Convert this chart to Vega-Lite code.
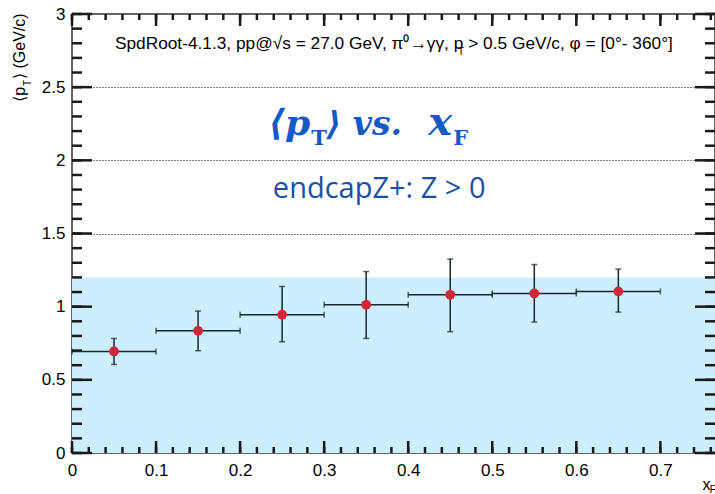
{
  "$schema": "https://vega.github.io/schema/vega-lite/v6.json",
  "width": 643,
  "height": 439,
  "autosize": {"type": "none"},
  "padding": {"left": 72, "top": 14, "right": 0, "bottom": 41},
  "background": "white",
  "config": {
    "view": {"stroke": "#333333", "strokeWidth": 1.5},
    "axis": {"domain": false, "ticks": false, "labelFont": "Liberation Sans", "labelColor": "#000000", "labelFontSize": 17, "title": null, "zindex": 1, "grid": false}
  },
  "datasets": {
    "pts": [
      {"x": 0.05, "xlo": 0.0, "xhi": 0.1, "y": 0.694, "ylo": 0.605, "yhi": 0.783},
      {"x": 0.15, "xlo": 0.1, "xhi": 0.2, "y": 0.835, "ylo": 0.699, "yhi": 0.970},
      {"x": 0.25, "xlo": 0.2, "xhi": 0.3, "y": 0.945, "ylo": 0.760, "yhi": 1.138},
      {"x": 0.35, "xlo": 0.3, "xhi": 0.4, "y": 1.013, "ylo": 0.783, "yhi": 1.240},
      {"x": 0.45, "xlo": 0.4, "xhi": 0.5, "y": 1.081, "ylo": 0.829, "yhi": 1.325},
      {"x": 0.55, "xlo": 0.5, "xhi": 0.6, "y": 1.090, "ylo": 0.895, "yhi": 1.288},
      {"x": 0.65, "xlo": 0.6, "xhi": 0.7, "y": 1.104, "ylo": 0.963, "yhi": 1.257}
    ],
    "xmajor": [{"v": 0}, {"v": 0.1}, {"v": 0.2}, {"v": 0.3}, {"v": 0.4}, {"v": 0.5}, {"v": 0.6}, {"v": 0.7}],
    "xminor": [{"v":0},{"v":0.02},{"v":0.04},{"v":0.06},{"v":0.08},{"v":0.1},{"v":0.12},{"v":0.14},{"v":0.16},{"v":0.18},{"v":0.2},{"v":0.22},{"v":0.24},{"v":0.26},{"v":0.28},{"v":0.3},{"v":0.32},{"v":0.34},{"v":0.36},{"v":0.38},{"v":0.4},{"v":0.42},{"v":0.44},{"v":0.46},{"v":0.48},{"v":0.5},{"v":0.52},{"v":0.54},{"v":0.56},{"v":0.58},{"v":0.6},{"v":0.62},{"v":0.64},{"v":0.66},{"v":0.68},{"v":0.7},{"v":0.72},{"v":0.74},{"v":0.76}],
    "ymajor": [{"v": 0}, {"v": 0.5}, {"v": 1}, {"v": 1.5}, {"v": 2}, {"v": 2.5}, {"v": 3}],
    "yminor": [{"v":0},{"v":0.1},{"v":0.2},{"v":0.3},{"v":0.4},{"v":0.5},{"v":0.6},{"v":0.7},{"v":0.8},{"v":0.9},{"v":1},{"v":1.1},{"v":1.2},{"v":1.3},{"v":1.4},{"v":1.5},{"v":1.6},{"v":1.7},{"v":1.8},{"v":1.9},{"v":2},{"v":2.1},{"v":2.2},{"v":2.3},{"v":2.4},{"v":2.5},{"v":2.6},{"v":2.7},{"v":2.8},{"v":2.9},{"v":3}]
  },
  "resolve": {"axis": {"x": "independent", "y": "independent"}},
  "layer": [
    {
      "data": {"values": [{"x0": 0, "x1": 0.765, "y0": 0, "y1": 1.2}]},
      "mark": {"type": "rect", "color": "#cdeffd"},
      "encoding": {
        "x": {"field": "x0", "type": "quantitative", "scale": {"domain": [0, 0.765], "nice": false, "zero": false},
              "axis": {"orient": "bottom", "values": [0, 0.1, 0.2, 0.3, 0.4, 0.5, 0.6, 0.7], "format": "~g", "labelPadding": 9, "labelFlush": false, "labelOverlap": false}},
        "x2": {"field": "x1"},
        "y": {"field": "y0", "type": "quantitative", "scale": {"domain": [0, 3], "nice": false, "zero": false},
              "axis": {"orient": "left", "values": [0, 0.5, 1, 1.5, 2, 2.5, 3], "format": "~g", "labelPadding": 7, "labelFlush": false, "labelOverlap": false}},
        "y2": {"field": "y1"}
      }
    },
    {
      "data": {"name": "pts"},
      "mark": {"type": "circle", "opacity": 0},
      "encoding": {
        "x": {"field": "x", "type": "quantitative", "axis": null},
        "y": {"field": "y", "type": "quantitative",
              "axis": {"orient": "left", "values": [0.5, 1, 1.5, 2, 2.5], "labels": false, "grid": true, "gridDash": [1, 2], "gridColor": "#000000", "gridWidth": 1, "gridOpacity": 1, "zindex": 0}}
      }
    },
    {
      "data": {"name": "xminor"},
      "mark": {"type": "rule", "color": "#1a1a1a", "strokeWidth": 2.5},
      "encoding": {"x": {"field": "v", "type": "quantitative", "axis": null}, "y": {"datum": 0, "type": "quantitative", "axis": null}, "y2": {"datum": 0.041}}
    },
    {
      "data": {"name": "xmajor"},
      "mark": {"type": "rule", "color": "#1a1a1a", "strokeWidth": 2.5},
      "encoding": {"x": {"field": "v", "type": "quantitative", "axis": null}, "y": {"datum": 0, "type": "quantitative", "axis": null}, "y2": {"datum": 0.082}}
    },
    {
      "data": {"name": "xminor"},
      "mark": {"type": "rule", "color": "#1a1a1a", "strokeWidth": 2.5},
      "encoding": {"x": {"field": "v", "type": "quantitative", "axis": null}, "y": {"datum": 3, "type": "quantitative", "axis": null}, "y2": {"datum": 2.959}}
    },
    {
      "data": {"name": "xmajor"},
      "mark": {"type": "rule", "color": "#1a1a1a", "strokeWidth": 2.5},
      "encoding": {"x": {"field": "v", "type": "quantitative", "axis": null}, "y": {"datum": 3, "type": "quantitative", "axis": null}, "y2": {"datum": 2.918}}
    },
    {
      "data": {"name": "yminor"},
      "mark": {"type": "rule", "color": "#1a1a1a", "strokeWidth": 2.5},
      "encoding": {"y": {"field": "v", "type": "quantitative", "axis": null}, "x": {"datum": 0, "type": "quantitative", "axis": null}, "x2": {"datum": 0.0119}}
    },
    {
      "data": {"name": "ymajor"},
      "mark": {"type": "rule", "color": "#1a1a1a", "strokeWidth": 2.5},
      "encoding": {"y": {"field": "v", "type": "quantitative", "axis": null}, "x": {"datum": 0, "type": "quantitative", "axis": null}, "x2": {"datum": 0.0238}}
    },
    {
      "data": {"name": "yminor"},
      "mark": {"type": "rule", "color": "#1a1a1a", "strokeWidth": 2.5},
      "encoding": {"y": {"field": "v", "type": "quantitative", "axis": null}, "x": {"datum": 0.765, "type": "quantitative", "axis": null}, "x2": {"datum": 0.7531}}
    },
    {
      "data": {"name": "ymajor"},
      "mark": {"type": "rule", "color": "#1a1a1a", "strokeWidth": 2.5},
      "encoding": {"y": {"field": "v", "type": "quantitative", "axis": null}, "x": {"datum": 0.765, "type": "quantitative", "axis": null}, "x2": {"datum": 0.7412}}
    },
    {
      "data": {"name": "pts"},
      "mark": {"type": "rule", "color": "#17252f", "strokeWidth": 1.5},
      "encoding": {
        "x": {"field": "xlo", "type": "quantitative", "axis": null},
        "x2": {"field": "xhi"},
        "y": {"field": "y", "type": "quantitative", "axis": null}
      }
    },
    {
      "data": {"name": "pts"},
      "mark": {"type": "rule", "color": "#17252f", "strokeWidth": 1.5},
      "encoding": {
        "x": {"field": "x", "type": "quantitative", "axis": null},
        "y": {"field": "ylo", "type": "quantitative", "axis": null},
        "y2": {"field": "yhi"}
      }
    },
    {
      "data": {"name": "pts"},
      "transform": [{"fold": ["xlo", "xhi"], "as": ["end", "xe"]}],
      "mark": {"type": "tick", "orient": "vertical", "color": "#17252f", "size": 6, "thickness": 1.5},
      "encoding": {
        "x": {"field": "xe", "type": "quantitative", "axis": null},
        "y": {"field": "y", "type": "quantitative", "axis": null}
      }
    },
    {
      "data": {"name": "pts"},
      "transform": [{"fold": ["ylo", "yhi"], "as": ["end", "ye"]}],
      "mark": {"type": "tick", "orient": "horizontal", "color": "#17252f", "size": 6, "thickness": 1.5},
      "encoding": {
        "x": {"field": "x", "type": "quantitative", "axis": null},
        "y": {"field": "ye", "type": "quantitative", "axis": null}
      }
    },
    {
      "data": {"name": "pts"},
      "mark": {"type": "circle", "color": "#d42637", "opacity": 1, "size": 95},
      "encoding": {
        "x": {"field": "x", "type": "quantitative", "axis": null},
        "y": {"field": "y", "type": "quantitative", "axis": null}
      }
    },
    {
      "data": {"values": [{"x": 0.4655, "y": 2.762, "t": "SpdRoot-4.1.3, pp@√s = 27.0 GeV,  π⁰→γγ,  p"}]},
      "mark": {"type": "text", "font": "Liberation Sans", "fontSize": 17.3, "color": "#000000", "baseline": "alphabetic", "align": "right"},
      "encoding": {
        "x": {"field": "x", "type": "quantitative", "axis": null},
        "y": {"field": "y", "type": "quantitative", "axis": null},
        "text": {"field": "t"}
      }
    },
    {
      "data": {"values": [{"x": 0.4714, "y": 2.762, "t": "> 0.5 GeV/c, φ = [0°- 360°]"}]},
      "mark": {"type": "text", "font": "Liberation Sans", "fontSize": 17.3, "color": "#000000", "baseline": "alphabetic", "align": "left"},
      "encoding": {
        "x": {"field": "x", "type": "quantitative", "axis": null},
        "y": {"field": "y", "type": "quantitative", "axis": null},
        "text": {"field": "t"}
      }
    },
    {
      "data": {"values": [{"x": 0.4630, "y": 2.72, "t": "T"}]},
      "mark": {"type": "text", "font": "Liberation Sans", "fontSize": 10, "color": "#000000", "baseline": "alphabetic", "align": "center"},
      "encoding": {
        "x": {"field": "x", "type": "quantitative", "axis": null},
        "y": {"field": "y", "type": "quantitative", "axis": null},
        "text": {"field": "t"}
      }
    },
    {
      "data": {"values": [{"x": 0.2833, "y": 2.174, "t": "⟨p"}]},
      "mark": {"type": "text", "font": "DejaVu Serif", "fontSize": 36, "fontWeight": "bold", "fontStyle": "italic", "color": "#1558c8", "baseline": "alphabetic", "align": "right"},
      "encoding": {
        "x": {"field": "x", "type": "quantitative", "axis": null},
        "y": {"field": "y", "type": "quantitative", "axis": null},
        "text": {"field": "t"}
      }
    },
    {
      "data": {"values": [{"x": 0.3025, "y": 2.174, "t": "⟩ vs."}]},
      "mark": {"type": "text", "font": "DejaVu Serif", "fontSize": 33, "fontWeight": "bold", "fontStyle": "italic", "color": "#1558c8", "baseline": "alphabetic", "align": "left"},
      "encoding": {
        "x": {"field": "x", "type": "quantitative", "axis": null},
        "y": {"field": "y", "type": "quantitative", "axis": null},
        "text": {"field": "t"}
      }
    },
    {
      "data": {"values": [{"x": 0.4238, "y": 2.174, "t": "x"}]},
      "mark": {"type": "text", "font": "DejaVu Serif", "fontSize": 40, "fontWeight": "bold", "fontStyle": "italic", "color": "#1558c8", "baseline": "alphabetic", "align": "left"},
      "encoding": {
        "x": {"field": "x", "type": "quantitative", "axis": null},
        "y": {"field": "y", "type": "quantitative", "axis": null},
        "text": {"field": "t"}
      }
    },
    {
      "data": {"values": [
        {"x": 0.2845, "y": 2.106, "t": "T"},
        {"x": 0.4536, "y": 2.106, "t": "F"}
      ]},
      "mark": {"type": "text", "font": "DejaVu Serif", "fontSize": 21, "fontWeight": "bold", "color": "#1558c8", "baseline": "alphabetic", "align": "left"},
      "encoding": {
        "x": {"field": "x", "type": "quantitative", "axis": null},
        "y": {"field": "y", "type": "quantitative", "axis": null},
        "text": {"field": "t"}
      }
    },
    {
      "data": {"values": [{"x": 0.3655, "y": 1.744, "t": "endcapZ+: Z > 0"}]},
      "mark": {"type": "text", "font": "Open Sans", "fontSize": 29, "color": "#1a4fa6", "baseline": "alphabetic", "align": "center"},
      "encoding": {
        "x": {"field": "x", "type": "quantitative", "axis": null},
        "y": {"field": "y", "type": "quantitative", "axis": null},
        "text": {"field": "t"}
      }
    },
    {
      "data": {"values": [{"x": -0.056, "y": 2.502, "t": "⟨p"}]},
      "mark": {"type": "text", "font": "Liberation Sans", "fontSize": 16, "color": "#000000", "baseline": "alphabetic", "angle": 270, "align": "right"},
      "encoding": {
        "x": {"field": "x", "type": "quantitative", "axis": null},
        "y": {"field": "y", "type": "quantitative", "axis": null},
        "text": {"field": "t"}
      }
    },
    {
      "data": {"values": [{"x": -0.049, "y": 2.529, "t": "T"}]},
      "mark": {"type": "text", "font": "Liberation Sans", "fontSize": 10, "color": "#000000", "baseline": "alphabetic", "angle": 270, "align": "center"},
      "encoding": {
        "x": {"field": "x", "type": "quantitative", "axis": null},
        "y": {"field": "y", "type": "quantitative", "axis": null},
        "text": {"field": "t"}
      }
    },
    {
      "data": {"values": [{"x": -0.056, "y": 2.556, "t": "⟩ (GeV/c)"}]},
      "mark": {"type": "text", "font": "Liberation Sans", "fontSize": 16, "color": "#000000", "baseline": "alphabetic", "angle": 270, "align": "left"},
      "encoding": {
        "x": {"field": "x", "type": "quantitative", "axis": null},
        "y": {"field": "y", "type": "quantitative", "axis": null},
        "text": {"field": "t"}
      }
    },
    {
      "data": {"values": [
        {"x": 0.7548, "y": -0.251, "t": "x", "s": 16},
        {"x": 0.7625, "y": -0.271, "t": "F", "s": 10}
      ]},
      "mark": {"type": "text", "font": "Liberation Sans", "color": "#000000", "baseline": "alphabetic", "align": "center"},
      "encoding": {
        "x": {"field": "x", "type": "quantitative", "axis": null},
        "y": {"field": "y", "type": "quantitative", "axis": null},
        "text": {"field": "t"},
        "size": {"field": "s", "type": "quantitative", "scale": null}
      }
    }
  ]
}
